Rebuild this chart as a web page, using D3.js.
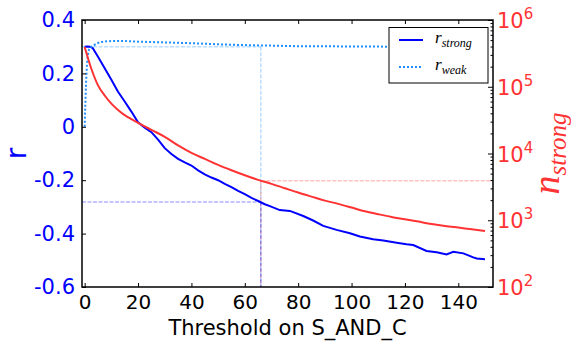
<!DOCTYPE html>
<html><head><meta charset="utf-8">
<script src="https://cdn.jsdelivr.net/npm/d3@7"></script>
<style>body{margin:0;background:#fff}svg{display:block}</style>
</head><body>
<svg id="c" width="573" height="343"></svg>
<script>
// ---- data ----
const strongX = [0,1,2,3,5,7.5,10,12.5,15,17.5,20,22.5,25,27.5,30,32.5,35,37.5,40,42.5,45,47.5,50,52.5,55,57.5,60,62.5,65,67.5,69.4,73.1,76.9,81.9,85.6,89.4,94.4,99.4,103.1,108.1,111.9,116.9,120.6,123.1,128.1,131.9,135.6,138.1,141.9,145.6,146.9,150];
const rStrong = [0.300,0.301,0.300,0.295,0.262,0.219,0.176,0.131,0.095,0.057,0.017,-0.003,-0.020,-0.048,-0.080,-0.102,-0.120,-0.133,-0.145,-0.163,-0.178,-0.190,-0.200,-0.214,-0.226,-0.240,-0.252,-0.266,-0.278,-0.290,-0.297,-0.312,-0.315,-0.334,-0.351,-0.371,-0.386,-0.399,-0.411,-0.421,-0.426,-0.434,-0.440,-0.443,-0.465,-0.470,-0.478,-0.468,-0.474,-0.489,-0.493,-0.496];
const weakX = [0,0.5,1,1.5,2,3,5,7.5,10,15,20,30,40,50,60,70,80,100,120,150];
const rWeak = [0,0.157,0.25,0.285,0.295,0.302,0.314,0.319,0.321,0.321,0.319,0.316,0.313,0.309,0.306,0.304,0.302,0.301,0.300,0.300];
const nX = [0,2.5,5,7.5,10,12.5,15,17.5,20,25,30,35,40,45,50,55,60,65,70,75,80,85,90,95,100,105,110,115,120,125,130,135,140,145,150];
const nStrong = [394000,186000,105000,74000,56000,45000,37600,32700,28800,22600,17800,13200,10200,8300,6760,5620,4730,4030,3510,3020,2600,2260,1970,1760,1550,1360,1230,1120,1035,955,881,822,776,733,692];
const xTicks = [0,20,40,60,80,100,120,140];
const rTicks = [-0.6,-0.4,-0.2,0,0.2,0.4];
const rTickLabels = ["-0.6","-0.4","-0.2","0","0.2","0.4"];
const nTicks = [100,1000,10000,100000,1000000];
const refThreshold = 66, refRWeak = 0.3, refN = 3900, refRStrong = -0.282;
const legendLabels = [["r","strong"],["r","weak"]];

// ---- layout ----
const L=82,R=493,T=20,B=287;
const svg=d3.select("#c");
const x=d3.scaleLinear().domain([-1,153]).range([L,R]);
const yL=d3.scaleLinear().domain([-0.6,0.4]).range([B,T]);
const yR=d3.scaleLog().domain([100,1e6]).range([B,T]);
const BLUE="#0000ff", RED="#ff3333", DOT="#1e8fff";

// reference lines
const ref=svg.append("g");
function refLine(x1,x2,y1,y2,c){
  ref.append("line").attr("x1",x1).attr("x2",x2).attr("y1",y1).attr("y2",y2)
    .attr("stroke",c).attr("stroke-opacity",0.3).attr("stroke-width",1.5).attr("stroke-dasharray","4,1.5");
}
refLine(L,x(refThreshold),yL(refRWeak),yL(refRWeak),DOT);
refLine(x(refThreshold),x(refThreshold),yL(refRWeak),B,DOT);
refLine(x(refThreshold),R,yR(refN),yR(refN),RED);
refLine(x(refThreshold),x(refThreshold),yR(refN),B,RED);
refLine(L,x(refThreshold),yL(refRStrong),yL(refRStrong),BLUE);
refLine(x(refThreshold),x(refThreshold),yL(refRStrong),B,BLUE);

// series
svg.append("path").datum(strongX.map((d,i)=>[d,rStrong[i]]))
  .attr("d",d3.line().x(d=>x(d[0])).y(d=>yL(d[1])))
  .attr("fill","none").attr("stroke",BLUE).attr("stroke-width",2);
svg.append("path").datum(weakX.map((d,i)=>[d,rWeak[i]]))
  .attr("d",d3.line().curve(d3.curveMonotoneX).x(d=>x(d[0])).y(d=>yL(d[1])))
  .attr("fill","none").attr("stroke",DOT).attr("stroke-width",2).attr("stroke-dasharray","2,2");
svg.append("path").datum(nX.map((d,i)=>[d,nStrong[i]]))
  .attr("d",d3.line().curve(d3.curveMonotoneX).x(d=>x(d[0])).y(d=>yR(d[1])))
  .attr("fill","none").attr("stroke",RED).attr("stroke-width",2);

// frame
svg.append("rect").attr("x",L).attr("y",T).attr("width",R-L).attr("height",B-T)
  .attr("fill","none").attr("stroke","#000").attr("stroke-width",1.5);

const font="'DejaVu Sans', sans-serif";
// x axis
const gx=svg.append("g").attr("transform",`translate(0,${B})`)
  .call(d3.axisBottom(x).tickValues(xTicks).tickSize(-4).tickPadding(8).tickFormat(d3.format("d")));
const gxt=svg.append("g").attr("transform",`translate(0,${T})`)
  .call(d3.axisTop(x).tickValues(xTicks).tickSize(-4).tickFormat(""));
// left axis
const gl=svg.append("g").attr("transform",`translate(${L},0)`)
  .call(d3.axisLeft(yL).tickValues(rTicks).tickSize(-4).tickPadding(7).tickFormat((d,i)=>rTickLabels[i]));
// right axis
const minor=[];
for(let e=2;e<6;e++)for(let m=2;m<10;m++)minor.push(m*Math.pow(10,e));
const gr=svg.append("g").attr("transform",`translate(${R},0)`)
  .call(d3.axisRight(yR).tickValues(nTicks).tickSize(-5).tickFormat(""));
const grm=svg.append("g").attr("transform",`translate(${R},0)`)
  .call(d3.axisRight(yR).tickValues(minor).tickSize(-2.5).tickFormat(""));
[gx,gxt,gl,gr,grm].forEach(g=>{g.select(".domain").remove();g.selectAll(".tick line").attr("stroke","#000").attr("stroke-width",1);});
gx.selectAll("text").attr("font-family",font).attr("font-size",20).attr("fill","#000");
gl.selectAll("text").attr("font-family",font).attr("font-size",21).attr("fill",BLUE);
// right tick labels with superscripts
const rl=svg.append("g");
nTicks.forEach(v=>{
  const t=rl.append("text").attr("x",R+4).attr("y",yR(v)+8).attr("font-family",font).attr("font-size",21).attr("fill",RED);
  t.append("tspan").text("10");
  t.append("tspan").attr("dy",-9).attr("font-size",15).text(String(Math.round(Math.log10(v))));
});

// axis labels
svg.append("text").attr("x",(L+R)/2).attr("y",335).attr("text-anchor","middle")
  .attr("font-family",font).attr("font-size",21).attr("fill","#000").text("Threshold on S_AND_C");
svg.append("text").attr("transform",`translate(26,${(T+B)/2}) rotate(-90)`).attr("text-anchor","middle")
  .attr("font-family",font).attr("font-size",28).attr("fill",BLUE).text("r");
const ny=svg.append("text").attr("transform",`translate(559,${(T+B)/2}) rotate(-90)`).attr("text-anchor","middle")
  .attr("font-family","'Liberation Serif', serif").attr("font-style","italic").attr("font-size",38).attr("fill",RED);
ny.append("tspan").text("n");
ny.append("tspan").attr("dy",7).attr("font-size",25).text("strong");

// legend
const lg=svg.append("g");
lg.append("rect").attr("x",389).attr("y",27.5).attr("width",99).attr("height",55.5)
  .attr("fill","#fff").attr("stroke","#000").attr("stroke-width",1);
const lstyles=[{c:BLUE,dash:null},{c:DOT,dash:"2,2"}];
legendLabels.forEach((lab,i)=>{
  const yy=40+i*27;
  lg.append("line").attr("x1",399).attr("x2",423).attr("y1",yy).attr("y2",yy)
    .attr("stroke",lstyles[i].c).attr("stroke-width",2).attr("stroke-dasharray",lstyles[i].dash);
  const t=lg.append("text").attr("x",435).attr("y",yy+3).attr("font-family","'Liberation Serif', serif")
    .attr("font-style","italic").attr("font-size",17).attr("fill","#000");
  t.append("tspan").text(lab[0]);
  t.append("tspan").attr("dy",4).attr("font-size",12).text(lab[1]);
});
</script>
</body></html>
